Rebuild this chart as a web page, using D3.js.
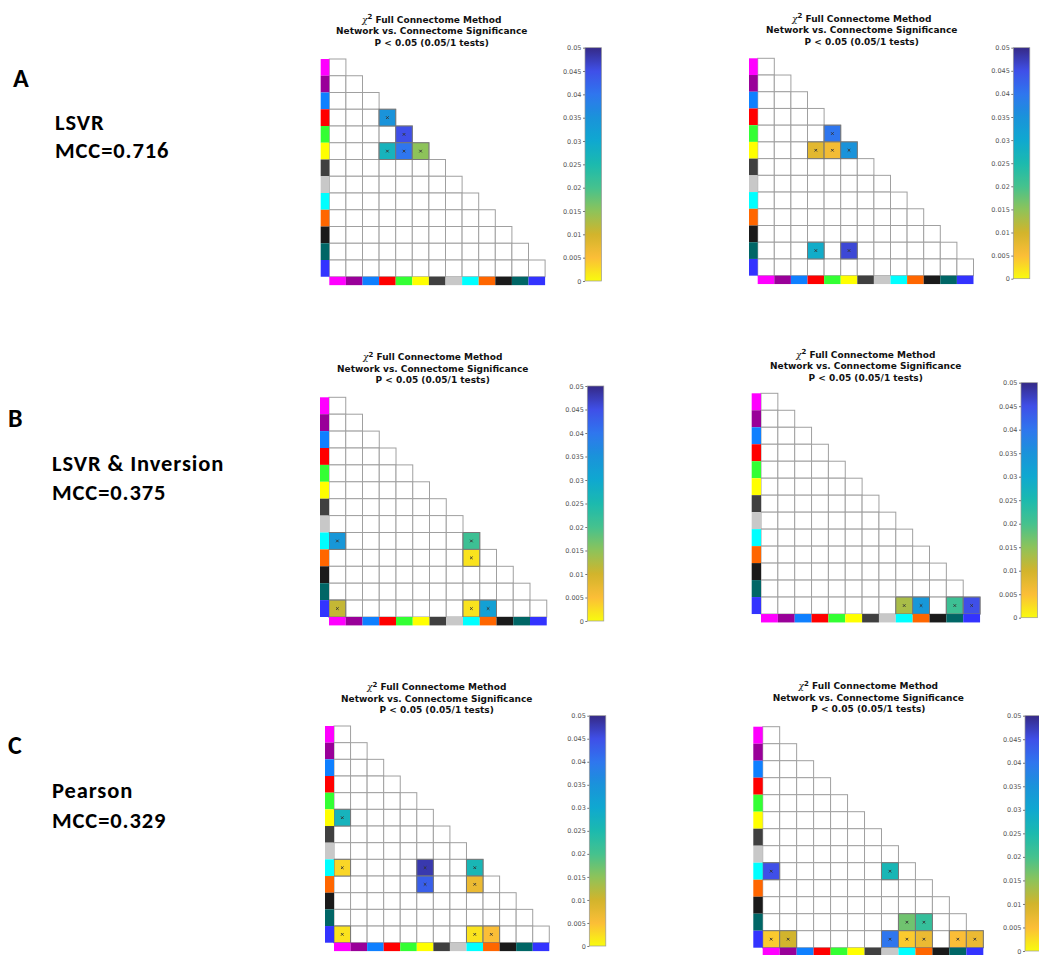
<!DOCTYPE html>
<html>
<head>
<meta charset="utf-8">
<script src="https://cdn.jsdelivr.net/npm/d3@7"></script>
<style>
  body { margin: 0; background: #fff; }
  svg { display: block; }
</style>
</head>
<body>
<div id="fig"></div>
<script>
// network colours along the matrix edges (13 networks)
const networkColors = ["#ff00ff", "#990099", "#0f80ff", "#ff0000", "#33ff33", "#ffff00",
  "#404040", "#c8c8c8", "#00ffff", "#ff6600", "#1a1a1a", "#006666", "#3333ff"];

// colourbar ticks (p value)
const cbTicks = [0, 0.005, 0.01, 0.015, 0.02, 0.025, 0.03, 0.035, 0.04, 0.045, 0.05];

// parula-like colour map, p = 0 -> yellow, p = 0.05 -> dark blue
const parulaStops = [0, 0.005, 0.01, 0.015, 0.02, 0.025, 0.03, 0.035, 0.04, 0.045, 0.05];
const parulaColors = ["#f9fb0e", "#fbbe37", "#d2b42c", "#8dc35a", "#45c28e", "#1cbaae",
  "#0fa8d0", "#1a93da", "#2f76ee", "#3f4fe8", "#352a87"];

const titleLines = ["Full Connectome Method", "Network vs. Connectome Significance", "P < 0.05 (0.05/1 tests)"];

const panelLetters = ["A", "B", "C"];
const methodNames = ["LSVR", "LSVR & Inversion", "Pearson"];
const mccLabels = ["MCC=0.716", "MCC=0.375", "MCC=0.329"];

// significant cells: [row, col, p]
const sigA1 = [[3, 3, 0.035], [4, 4, 0.045], [5, 3, 0.027], [5, 4, 0.040], [5, 5, 0.015]];
const sigA2 = [[4, 4, 0.040], [5, 3, 0.008], [5, 4, 0.006], [5, 5, 0.035], [11, 3, 0.029], [11, 5, 0.046]];
const sigB1 = [[8, 0, 0.034], [8, 8, 0.021], [9, 8, 0.002], [12, 0, 0.011], [12, 8, 0.002], [12, 9, 0.032]];
const sigB2 = [[12, 8, 0.013], [12, 9, 0.034], [12, 11, 0.021], [12, 12, 0.045]];
const sigC1 = [[5, 0, 0.027], [8, 0, 0.003], [8, 5, 0.048], [8, 8, 0.026], [9, 5, 0.043], [9, 8, 0.007],
  [12, 0, 0.002], [12, 8, 0.002], [12, 9, 0.005]];
const sigC2 = [[8, 0, 0.045], [8, 7, 0.026], [11, 8, 0.017], [11, 9, 0.022], [12, 0, 0.004], [12, 1, 0.010],
  [12, 7, 0.040], [12, 8, 0.004], [12, 9, 0.007], [12, 11, 0.005], [12, 12, 0.007]];

// panel layout
const panels = [
  { sig: sigA1, colX: 320.7, x0: 329.3, top: 59,    cw: 16.6,  rh: 16.75, cbX: 585,    cbTop: 47.7,  cbBot: 281,   cx: 431.7, ty: 19 },
  { sig: sigA2, colX: 749,   x0: 757.7, top: 58.3,  cw: 16.6,  rh: 16.72, cbX: 1013.3, cbTop: 47.7,  cbBot: 278.7, cx: 861.7, ty: 18.3 },
  { sig: sigB1, colX: 320,   x0: 329,   top: 397.3, cw: 16.75, rh: 16.9,  cbX: 587.3,  cbTop: 386,   cbBot: 621,   cx: 432.7, ty: 356.7 },
  { sig: sigB2, colX: 751.7, x0: 761,   top: 393.3, cw: 16.85, rh: 16.98, cbX: 1021,   cbTop: 382.7, cbBot: 617.7, cx: 865.7, ty: 354 },
  { sig: sigC1, colX: 325,   x0: 334,   top: 726,   cw: 16.56, rh: 16.67, cbX: 589.3,  cbTop: 715.7, cbBot: 946,   cx: 436.7, ty: 686.7 },
  { sig: sigC2, colX: 753.3, x0: 762.7, top: 726.7, cw: 16.97, rh: 17,    cbX: 1025,   cbTop: 715.7, cbBot: 951,   cx: 868.3, ty: 685.7 }
];
const labelPos = [
  { lx: 13, ly: 87,  mx: 55, my1: 130, my2: 158 },
  { lx: 8,  ly: 427, mx: 52, my1: 471, my2: 500 },
  { lx: 8,  ly: 754, mx: 52, my1: 798, my2: 828 }
];

const svg = d3.select("#fig").append("svg")
    .attr("width", 1039)
    .attr("height", 955)
    .style("font-family", "'DejaVu Sans', sans-serif");

const parula = d3.scaleLinear()
    .domain(parulaStops)
    .range(parulaColors)
    .interpolate(d3.interpolateRgb)
    .clamp(true);

// shared vertical gradient for colourbars
const grad = svg.append("defs").append("linearGradient")
    .attr("id", "cbgrad")
    .attr("x1", 0).attr("y1", 1).attr("x2", 0).attr("y2", 0);
d3.range(0, 51).forEach(i => {
  grad.append("stop")
      .attr("offset", i / 50)
      .attr("stop-color", parula(i * 0.001));
});

// left side labels
const leftFont = "Carlito, Calibri, Lato, sans-serif";
labelPos.forEach((p, i) => {
  svg.append("text")
      .attr("x", p.lx).attr("y", p.ly)
      .style("font-family", leftFont).style("font-weight", "bold").style("font-size", "26px")
      .text(panelLetters[i]);
  svg.append("text")
      .attr("x", p.mx).attr("y", p.my1)
      .style("font-family", leftFont).style("font-weight", "bold").style("font-size", "22.5px")
      .style("letter-spacing", "0.9px")
      .text(methodNames[i]);
  svg.append("text")
      .attr("x", p.mx).attr("y", p.my2)
      .style("font-family", leftFont).style("font-weight", "bold").style("font-size", "22.5px")
      .style("letter-spacing", "0.9px")
      .text(mccLabels[i]);
});

const idx = d3.range(networkColors.length);

panels.forEach(p => {
  const n = networkColors.length;
  const x = d3.scaleBand().domain(idx).range([p.x0, p.x0 + n * p.cw]);
  const y = d3.scaleBand().domain(idx).range([p.top, p.top + n * p.rh]);
  const g = svg.append("g");

  // title
  const t = g.append("text")
      .attr("text-anchor", "middle")
      .attr("x", p.cx)
      .style("font-size", "9px")
      .style("font-weight", "bold")
      .attr("fill", "#111");
  const l1 = t.append("tspan").attr("x", p.cx).attr("y", p.ty + 3.5);
  l1.append("tspan").style("font-weight", "normal").style("font-family", "'DejaVu Serif', serif").style("font-style", "italic").text("\u03c7");
  l1.append("tspan").attr("dy", -3.5).style("font-size", "7px").text("2");
  l1.append("tspan").attr("dy", 3.5).text(" " + titleLines[0]);
  t.append("tspan").attr("x", p.cx).attr("y", p.ty + 3.5 + 11.6).text(titleLines[1]);
  t.append("tspan").attr("x", p.cx).attr("y", p.ty + 3.5 + 23.2).text(titleLines[2]);

  // lower-triangular grid
  const cells = [];
  idx.forEach(r => { for (let c = 0; c <= r; c++) cells.push([r, c]); });
  g.selectAll("rect.cell")
    .data(cells)
    .join("rect")
      .attr("class", "cell")
      .attr("x", d => x(d[1]))
      .attr("y", d => y(d[0]))
      .attr("width", x.bandwidth())
      .attr("height", y.bandwidth())
      .attr("fill", "#fff")
      .attr("stroke", "#a0a0a0")
      .attr("stroke-width", 1);

  // significant cells
  g.selectAll("rect.sig")
    .data(p.sig)
    .join("rect")
      .attr("class", "sig")
      .attr("x", d => x(d[1]))
      .attr("y", d => y(d[0]))
      .attr("width", x.bandwidth())
      .attr("height", y.bandwidth())
      .attr("fill", d => parula(d[2]))
      .attr("stroke", "#777")
      .attr("stroke-width", 1);

  g.selectAll("path.mark")
    .data(p.sig)
    .join("path")
      .attr("class", "mark")
      .attr("d", d => {
        const cx = x(d[1]) + x.bandwidth() / 2, cy = y(d[0]) + y.bandwidth() / 2, s = 1.3;
        return `M${cx - s},${cy - s}L${cx + s},${cy + s}M${cx - s},${cy + s}L${cx + s},${cy - s}`;
      })
      .attr("stroke", "#333")
      .attr("stroke-width", 0.9);

  // network colour strips
  g.selectAll("rect.left")
    .data(idx)
    .join("rect")
      .attr("class", "left")
      .attr("x", p.colX)
      .attr("y", d => y(d))
      .attr("width", p.x0 - p.colX)
      .attr("height", y.bandwidth())
      .attr("fill", d => networkColors[d]);

  g.selectAll("rect.bottom")
    .data(idx)
    .join("rect")
      .attr("class", "bottom")
      .attr("x", d => x(d))
      .attr("y", p.top + n * p.rh)
      .attr("width", x.bandwidth())
      .attr("height", 8.4)
      .attr("fill", d => networkColors[d]);

  // colourbar
  const cbW = 16.5;
  const cy = d3.scaleLinear().domain([0, 0.05]).range([p.cbBot, p.cbTop]);
  g.append("rect")
      .attr("x", p.cbX).attr("y", p.cbTop)
      .attr("width", cbW).attr("height", p.cbBot - p.cbTop)
      .attr("fill", "url(#cbgrad)")
      .attr("stroke", "#999")
      .attr("stroke-width", 0.7);

  const ax = g.append("g")
      .attr("transform", `translate(${p.cbX},0)`)
      .call(d3.axisLeft(cy).tickValues(cbTicks).tickFormat(d3.format("~g")).tickSize(2).tickPadding(1.5));
  ax.select(".domain").remove();
  ax.selectAll("line").attr("stroke", "#777");
  ax.selectAll("text")
      .attr("fill", "#555")
      .style("font-size", "6.5px")
      .style("font-family", "'DejaVu Sans', sans-serif");
});
</script>
</body>
</html>
